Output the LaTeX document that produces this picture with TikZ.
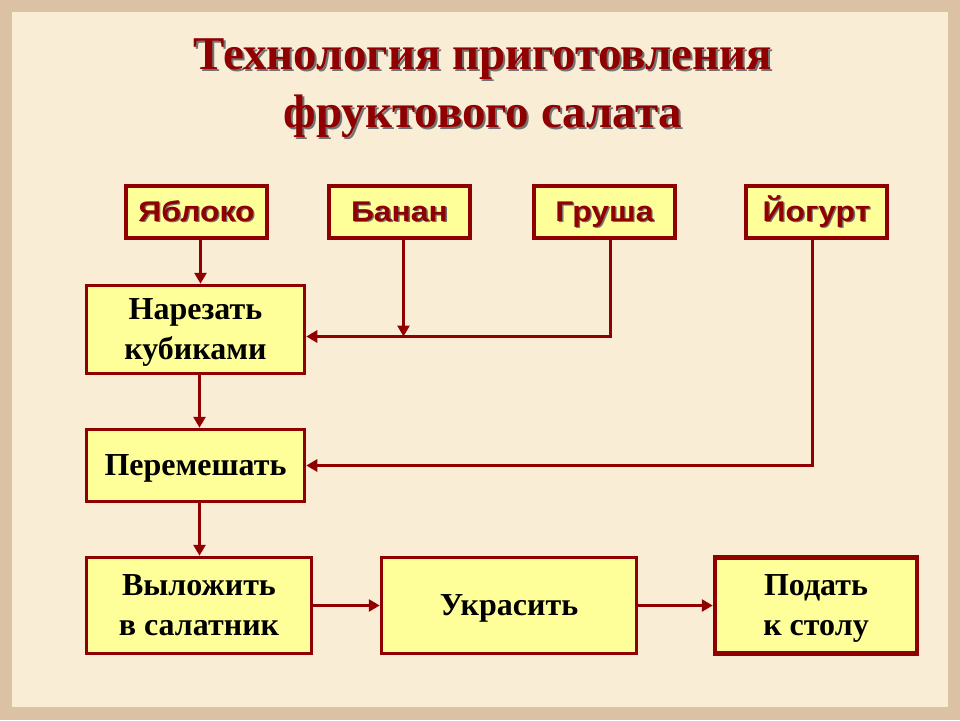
\documentclass[tikz,border=0pt]{standalone}
\usepackage{fontspec}
\setmainfont{Liberation Serif}
\newfontfamily\fruitfont{Liberation Sans}[FakeStretch=1.12]
\usepackage{tikz}
\usetikzlibrary{arrows.meta}
\definecolor{frame}{HTML}{DCC2A4}
\definecolor{paper}{HTML}{FAEDD6}
\definecolor{brick}{HTML}{900000}
\definecolor{lemon}{HTML}{FFFF99}
\newcommand{\shtxt}[2][1.3pt]{\makebox[0pt][l]{\hspace{#1}\raisebox{-#1}{\color{black!55}#2}}#2}

\begin{document}
\begin{tikzpicture}[x=1pt,y=-1pt,
    fruit/.style={draw=brick,line width=3.5pt,fill=lemon,minimum width=141pt,minimum height=52pt,
      inner sep=0pt,text height=20pt,text depth=1pt,text=brick,
      font=\fruitfont\bfseries\fontsize{28.5}{30}\selectfont},
    stage/.style={draw=brick,line width=3.5pt,fill=lemon,align=center,inner sep=0pt,text depth=0pt,
      font=\bfseries\fontsize{32}{40}\selectfont},
    arr/.style={draw=brick,line width=3.8pt,-{Triangle[length=11pt,width=12pt]}}]
  \useasboundingbox (0,0) rectangle (960,720);
  \fill[frame] (0,0) rectangle (960,720);
  \fill[paper] (12,12) rectangle (948,707);
  % title
  \node[text=brick,align=center,font=\bfseries\fontsize{47}{58}\selectfont] (title) at (483,89)
    {\shtxt[2pt]{Технология приготовления}\\\shtxt[2pt]{фруктового салата}};
  % fruits
  \foreach \name/\txt/\x in {yabloko/Яблоко/196.5,banan/Банан/399.5,grusha/Груша/604.5,yogurt/Йогурт/816.5}
    \node[fruit] (\name) at (\x,212) {\shtxt{\txt}};
  % stages
  \node[stage,minimum width=218pt,minimum height=88pt] (narezat) at (195.5,329.5) {Нарезать\\кубиками};
  \node[stage,minimum width=218pt,minimum height=72pt] (peremeshat) at (195.5,465.5) {Перемешать};
  \node[stage,minimum width=225pt,minimum height=96pt] (vylozhit) at (199,605.5) {Выложить\\в салатник};
  \node[stage,minimum width=255pt,minimum height=96pt] (ukrasit) at (509,605.5) {Украсить};
  \node[stage,line width=4.5pt,minimum width=202pt,minimum height=96pt] (podat) at (816,605.5) {Подать\\к столу};
  % arrows
  \coordinate (joint) at ([yshift=-7pt]narezat.east);
  \foreach \a/\b in {yabloko/narezat,narezat/peremeshat,peremeshat/vylozhit}
    \draw[arr] ([xshift=4pt]\a.south) -- ([xshift=4pt]\a.south |- \b.north);
  \draw[arr] ([xshift=4pt]banan.south) -- ([xshift=4pt]banan.south |- joint);
  \draw[arr] ([xshift=6pt]grusha.south) |- (joint);
  \draw[arr] ([xshift=-4pt]yogurt.south) |- (peremeshat.east);
  \draw[arr] (vylozhit) -- (ukrasit);
  \draw[arr] (ukrasit) -- (podat);
\end{tikzpicture}
\end{document}
